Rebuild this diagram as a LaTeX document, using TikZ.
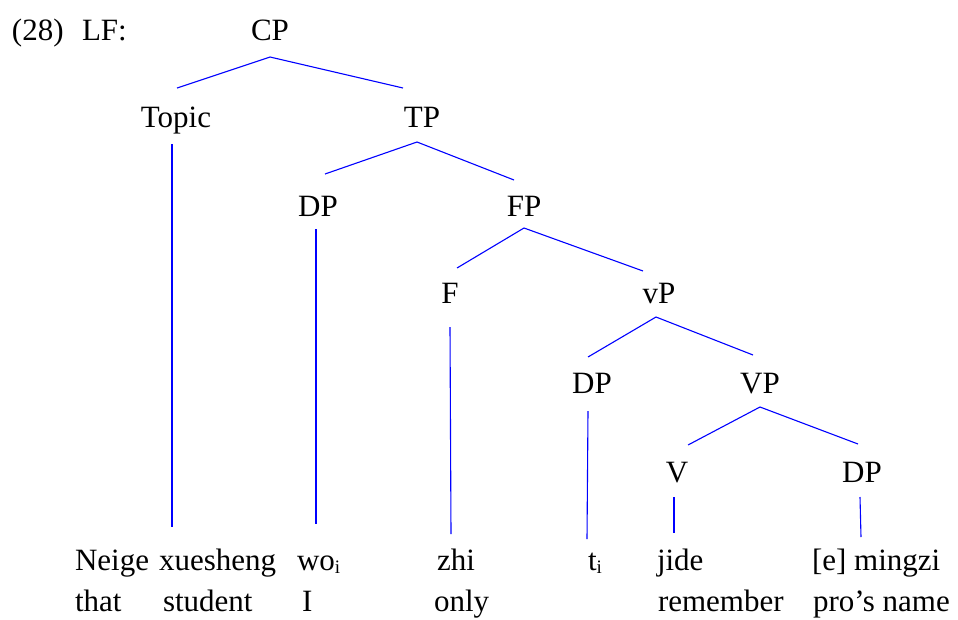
\documentclass[tikz,border=0pt]{standalone}
\usepackage{fontspec}
\setmainfont{Liberation Serif}
\definecolor{br}{RGB}{0,0,255}
\newcommand{\subi}{{\fontsize{19}{19}\selectfont\raisebox{-3pt}{i}}}
\begin{document}
\begin{tikzpicture}[x=1pt,y=-1pt,
  every node/.style={inner sep=0pt,outer sep=0pt,font=\fontsize{31}{31}\selectfont},
  lab/.style={anchor=base},
  wrd/.style={anchor=base west},
  br/.style={draw=br,line width=1.1pt}]
\useasboundingbox (0,0) rectangle (958,619);
% labels
\node[wrd] (ex) at (12,40) {(28)};
\node[wrd] (lf) at (82,40) {LF:};
\node[lab] (CP) at (270,40) {CP};
\node[lab] (Topic) at (176,127) {Topic};
\node[lab] (TP) at (422,127) {TP};
\node[lab] (DPa) at (318,216) {DP};
\node[lab] (FP) at (524,216) {FP};
\node[lab] (F) at (450,303) {F};
\node[lab] (vP) at (659,303) {vP};
\node[lab] (DPb) at (592,393) {DP};
\node[lab] (VP) at (760,393) {VP};
\node[lab] (V) at (677,482) {V};
\node[lab] (DPc) at (862,482) {DP};
% words
\node[wrd] (neige) at (75,570) {Neige};
\node[wrd] (xuesheng) at (159,570) {xuesheng};
\node[wrd] (wo) at (297,570) {wo\subi};
\node[wrd] (zhi) at (437,570) {zhi};
\node[wrd] (ti) at (588,570) {t\subi};
\node[wrd] (jide) at (657,570) {jide};
\node[wrd] (mingzi) at (812,570) {[e] mingzi};
\node[wrd] (that) at (75,611) {that};
\node[wrd] (student) at (163,611) {student};
\node[wrd] (I) at (302,611) {I};
\node[wrd] (only) at (434,611) {only};
\node[wrd] (remember) at (658,611) {remember};
\node[wrd] (prosname) at (813,611) {pro’s name};
% branches
\draw[br] ([shift={(1,-39)}]Topic.base) -- ([shift={(0,17)}]CP.base) -- ([shift={(-19,-39)}]TP.base);
\draw[br] ([shift={(7,-42)}]DPa.base) -- ([shift={(-5,15)}]TP.base) -- ([shift={(-10,-36)}]FP.base);
\draw[br] ([shift={(7,-35)}]F.base) -- ([shift={(0,12)}]FP.base) -- ([shift={(-16,-32)}]vP.base);
\draw[br] ([shift={(-4,-36)}]DPb.base) -- ([shift={(-3,14)}]vP.base) -- ([shift={(-7,-38)}]VP.base);
\draw[br] ([shift={(11,-37)}]V.base) -- ([shift={(0,14)}]VP.base) -- ([shift={(-4,-38)}]DPc.base);
% vertical lines
\draw[br] ([shift={(-4,17)}]Topic.base) -- ([shift={(13,-43)}]xuesheng.base west);
\draw[br] ([shift={(-2,13)}]DPa.base) -- ([shift={(19,-46)}]wo.base west);
\draw[br] ([shift={(0,24)}]F.base) -- ([shift={(14,-36)}]zhi.base west);
\draw[br] ([shift={(-4,18)}]DPb.base) -- ([shift={(-1,-31)}]ti.base west);
\draw[br] ([shift={(-3,15)}]V.base) -- ([shift={(17,-37)}]jide.base west);
\draw[br] ([shift={(-2,15)}]DPc.base) -- ([shift={(49,-33)}]mingzi.base west);
\end{tikzpicture}
\end{document}
